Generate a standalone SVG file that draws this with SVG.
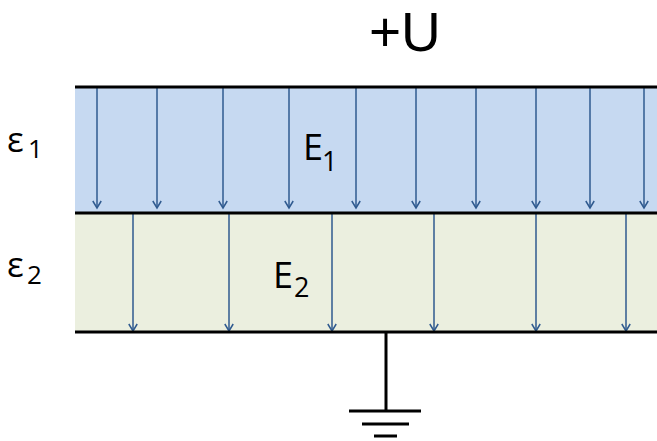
<svg xmlns="http://www.w3.org/2000/svg" width="657" height="441" viewBox="0 0 657 441">
  <style>
    .plate { stroke: #000; stroke-width: 3; fill: none; }
    .field { stroke: #2F5A8F; stroke-width: 1.5; fill: none; marker-end: url(#arr); }
    .lbl { font-family: "Open Sans", "DejaVu Sans", sans-serif; fill: #000; }
    .gnd { stroke: #000; stroke-width: 3; }
  </style>
  <defs>
    <marker id="arr" markerUnits="userSpaceOnUse" markerWidth="10" markerHeight="10" viewBox="0 0 10 10" refX="8" refY="5" orient="auto">
      <path d="M1,0.8 L8,5 L1,9.2" fill="none" stroke="#2F5A8F" stroke-width="1.5"/>
    </marker>
  </defs>
  <rect width="657" height="441" fill="#fff"/>

  <g id="layer1">
    <rect x="75" y="87" width="582" height="126" fill="#C6D9F1"/>
  </g>
  <g id="layer2">
    <rect x="75" y="213" width="582" height="119" fill="#EBEFDF"/>
  </g>

  <g id="connectors">
    <line class="field" x1="97" y1="88" x2="97" y2="208"/>
    <line class="field" x1="157" y1="88" x2="157" y2="208"/>
    <line class="field" x1="223" y1="88" x2="223" y2="208"/>
    <line class="field" x1="289" y1="88" x2="289" y2="208"/>
    <line class="field" x1="356" y1="88" x2="356" y2="208"/>
    <line class="field" x1="416" y1="88" x2="416" y2="208"/>
    <line class="field" x1="476" y1="88" x2="476" y2="208"/>
    <line class="field" x1="536" y1="88" x2="536" y2="208"/>
    <line class="field" x1="590" y1="88" x2="590" y2="208"/>
    <line class="field" x1="644" y1="88" x2="644" y2="208"/>

    <line class="field" x1="133" y1="214" x2="133" y2="331"/>
    <line class="field" x1="229" y1="214" x2="229" y2="331"/>
    <line class="field" x1="332" y1="214" x2="332" y2="331"/>
    <line class="field" x1="434" y1="214" x2="434" y2="331"/>
    <line class="field" x1="536" y1="214" x2="536" y2="331"/>
    <line class="field" x1="626" y1="214" x2="626" y2="331"/>
  </g>

  <g id="plates">
    <line class="plate" x1="75" y1="87" x2="657" y2="87"/>
    <line class="plate" x1="75" y1="213" x2="657" y2="213"/>
    <line class="plate" x1="75" y1="332" x2="657" y2="332"/>
  </g>

  <g id="ground">
    <line class="gnd" x1="386" y1="332" x2="386" y2="411"/>
    <line class="gnd" x1="349" y1="411" x2="421" y2="411"/>
    <line class="gnd" x1="362" y1="424" x2="409" y2="424"/>
    <line class="gnd" x1="374" y1="436" x2="397" y2="436"/>
  </g>

  <g id="label-U">
    <text x="369" y="51" font-family="'Liberation Sans', Arial, sans-serif" font-size="55">+U</text>
  </g>
  <g id="label-eps1">
    <text class="lbl" x="7" y="152" font-size="35">ε</text>
    <text class="lbl" x="28" y="158" font-size="26">1</text>
  </g>
  <g id="label-eps2">
    <text class="lbl" x="7" y="277" font-size="35">ε</text>
    <text class="lbl" x="27" y="284" font-size="26">2</text>
  </g>
  <g id="label-E1">
    <text class="lbl" x="303" y="160" font-size="36">E</text>
    <text class="lbl" x="322" y="171" font-size="27">1</text>
  </g>
  <g id="label-E2">
    <text class="lbl" x="273" y="288" font-size="36">E</text>
    <text class="lbl" x="294" y="297" font-size="27">2</text>
  </g>
</svg>
